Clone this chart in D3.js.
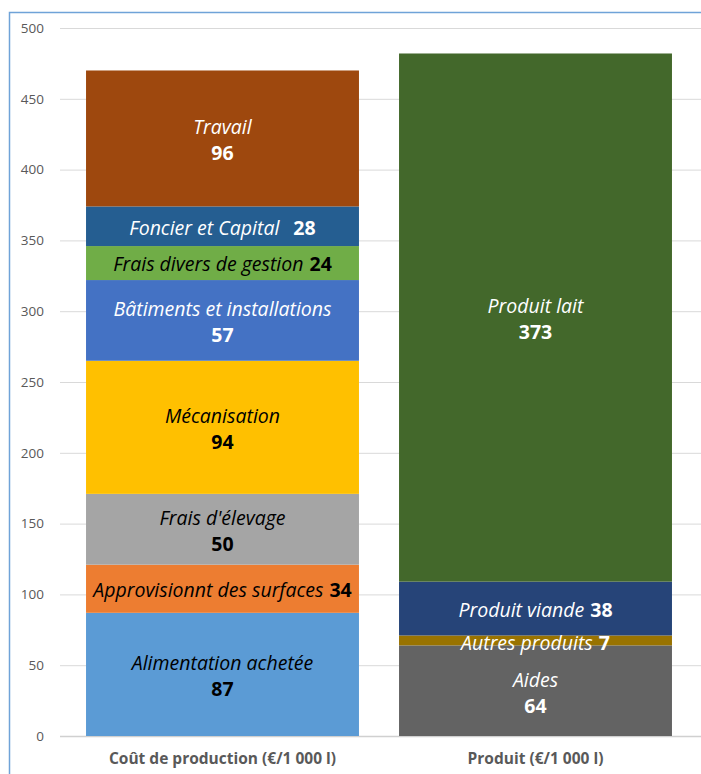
<!DOCTYPE html>
<html>
<head>
<meta charset="UTF-8">
<title>Coût de production et produit</title>
<script src="https://cdn.jsdelivr.net/npm/d3@7"></script>
<style>
  body { margin: 0; background: #fff; }
  svg { display: block; font-family: "Open Sans", sans-serif; }
</style>
</head>
<body>
<div id="chart"></div>
<script>
// categories (x axis)
var categories = ["Coût de production (€/1 000 l)", "Produit (€/1 000 l)"];

// stacks, bottom to top
var coutNames = ["Alimentation achetée", "Approvisionnt des surfaces", "Frais d'élevage", "Mécanisation",
                 "Bâtiments et installations", "Frais divers de gestion", "Foncier et Capital", "Travail"];
var coutValues = [87, 34, 50, 94, 57, 24, 28, 96];
var coutColors = ["#5b9bd5", "#ed7d31", "#a5a5a5", "#ffc000", "#4472c4", "#70ad47", "#255e91", "#9e480e"];
var coutText = ["#000", "#000", "#000", "#000", "#fff", "#000", "#fff", "#fff"];
var coutInline = [false, true, false, false, false, true, true, false];

var produitNames = ["Aides", "Autres produits", "Produit viande", "Produit lait"];
var produitValues = [64, 7, 38, 373];
var produitColors = ["#636363", "#997300", "#264478", "#43682b"];
var produitText = ["#fff", "#fff", "#fff", "#fff"];
var produitInline = [false, true, true, false];

var yTicks = [0, 50, 100, 150, 200, 250, 300, 350, 400, 450, 500];

var width = 701, height = 774;
var svg = d3.select("#chart").append("svg")
    .attr("width", width).attr("height", height);

// outer frame (clipped on the right and bottom like the original)
svg.append("rect")
    .attr("x", 9.5).attr("y", 12.5)
    .attr("width", 800).attr("height", 900)
    .attr("fill", "none")
    .attr("stroke", "#6fa3d8").attr("stroke-width", 1.5);

var x = d3.scaleBand().domain(categories).range([66, 692]).paddingInner(0.128).paddingOuter(0.064);
var y = d3.scaleLinear().domain([0, 500]).range([736, 28]);

// grid + ticks
svg.append("g").selectAll("line")
    .data(yTicks).enter().append("line")
    .attr("x1", 60).attr("x2", 701)
    .attr("y1", function(d) { return y(d) + 0.5; })
    .attr("y2", function(d) { return y(d) + 0.5; })
    .attr("stroke", function(d) { return d === 0 ? "#d0d0d0" : "#d9d9d9"; })
    .attr("stroke-width", function(d) { return d === 0 ? 1.5 : 1; });

svg.append("g").selectAll("text")
    .data(yTicks).enter().append("text")
    .attr("x", 44).attr("y", function(d) { return y(d); })
    .attr("dy", "0.35em")
    .attr("text-anchor", "end")
    .attr("font-size", 13.5)
    .attr("fill", "#595959")
    .text(function(d) { return d; });

function buildStack(cat, names, values, colors, textColors, inline) {
    var base = 0;
    return names.map(function(n, i) {
        var s = {cat: cat, name: n, value: values[i], y0: base, y1: base + values[i],
                 color: colors[i], text: textColors[i], inline: inline[i]};
        base += values[i];
        return s;
    });
}

var segments = buildStack(categories[0], coutNames, coutValues, coutColors, coutText, coutInline)
    .concat(buildStack(categories[1], produitNames, produitValues, produitColors, produitText, produitInline));

svg.append("g").selectAll("rect")
    .data(segments).enter().append("rect")
    .attr("x", function(d) { return x(d.cat); })
    .attr("width", x.bandwidth())
    .attr("y", function(d) { return y(d.y1); })
    .attr("height", function(d) { return y(d.y0) - y(d.y1); })
    .attr("fill", function(d) { return d.color; });

// segment labels
var labels = svg.append("g").selectAll("text")
    .data(segments).enter().append("text")
    .attr("x", function(d) { return x(d.cat) + x.bandwidth() / 2; })
    .attr("y", function(d) {
        var c = (y(d.y0) + y(d.y1)) / 2 + 1.5;
        if (d.name === "Autres produits") c += 1;
        return d.inline ? c : c - 12.5;
    })
    .attr("dy", "0.35em")
    .attr("text-anchor", "middle")
    .attr("font-size", 19.5)
    .attr("fill", function(d) { return d.text; });

labels.append("tspan")
    .attr("font-style", "italic")
    .text(function(d) { return d.name; });

labels.append("tspan")
    .attr("font-weight", "bold")
    .attr("x", function(d) { return d.inline ? null : x(d.cat) + x.bandwidth() / 2; })
    .attr("dy", function(d) { return d.inline ? null : 26; })
    .attr("dx", function(d) { return d.name === "Foncier et Capital" ? 14 : (d.inline ? 6 : null); })
    .text(function(d) { return d.value; });

// category labels
svg.append("g").selectAll("text")
    .data(categories).enter().append("text")
    .attr("x", function(d) { return x(d) + x.bandwidth() / 2; })
    .attr("y", 759)
    .attr("dy", "0.35em")
    .attr("text-anchor", "middle")
    .attr("font-size", 15.5)
    .attr("font-weight", "bold")
    .attr("fill", "#595959")
    .text(function(d) { return d; });
</script>
</body>
</html>
